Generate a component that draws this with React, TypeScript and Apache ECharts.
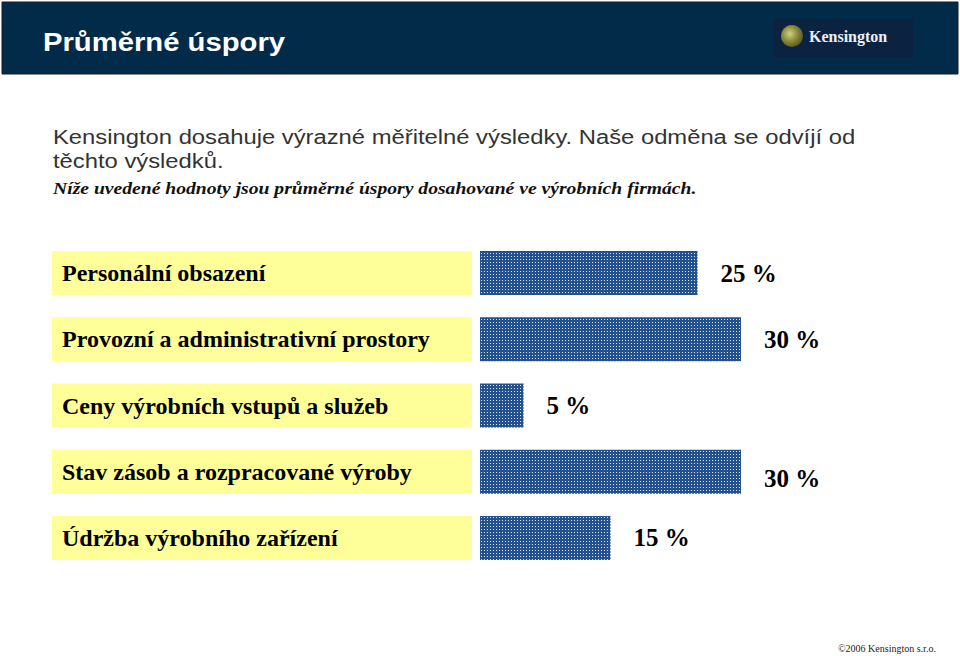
import React, { useEffect, useRef } from "react";
import * as echarts from "echarts";

const categories = [
  "Personální obsazení",
  "Provozní a administrativní prostory",
  "Ceny výrobních vstupů a služeb",
  "Stav zásob a rozpracované výroby",
  "Údržba výrobního zařízení",
];
const savings = [25, 30, 5, 30, 15];
const titleText = "Průměrné úspory";
const introLine1 = "Kensington dosahuje výrazné měřitelné výsledky. Naše odměna se odvíjí od";
const introLine2 = "těchto výsledků.";
const noteText = "Níže uvedené hodnoty jsou průměrné úspory dosahované ve výrobních firmách.";
const footerText = "©2006 Kensington s.r.o.";
const logoText = "Kensington";

function makePattern(): string {
  const c = document.createElement("canvas");
  c.width = 3;
  c.height = 3;
  const ctx = c.getContext("2d")!;
  ctx.fillStyle = "#23508f";
  ctx.fillRect(0, 0, 3, 3);
  ctx.fillStyle = "#dfe8f6";
  ctx.fillRect(1, 1, 1, 1);
  return c.toDataURL();
}

export default function App() {
  const ref = useRef<HTMLDivElement>(null);
  useEffect(() => {
    if (!ref.current) return;
    const chart = echarts.init(ref.current, null, { renderer: "svg" });
    const pattern = makePattern();
    const serif = "'Liberation Serif', 'Times New Roman', serif";
    const sans = "'Liberation Sans', Arial, sans-serif";
    chart.setOption({
      animation: false,
      backgroundColor: "#ffffff",
      grid: {
        left: 480,
        top: 240,
        width: 261,
        height: 331,
        containLabel: false,
        outerBoundsMode: "none",
      },
      xAxis: {
        type: "value",
        min: 0,
        max: 30,
        show: false,
      },
      yAxis: {
        type: "category",
        inverse: true,
        data: categories,
        axisLine: { show: false },
        axisTick: { show: false },
        splitLine: { show: false },
        axisLabel: {
          margin: 428,
          align: "left",
          verticalAlign: "middle",
          color: "#000000",
          fontFamily: serif,
          fontWeight: "bold",
          fontSize: 24,
          backgroundColor: "#ffff99",
          width: 410,
          height: 28,
          lineHeight: 28,
          padding: [8, 0, 8, 10],
        },
      },
      series: [
        {
          type: "bar",
          data: savings.map((v, i) => ({
            value: v,
            label: i === 3 ? { offset: [0, 7] } : undefined,
          })),
          barWidth: 44,
          itemStyle: { color: { image: pattern, repeat: "repeat" } },
          label: {
            show: true,
            position: "right",
            distance: 23,
            formatter: "{c} %",
            fontFamily: serif,
            fontWeight: "bold",
            fontSize: 25,
            color: "#000000",
          },
        },
      ],
      graphic: [
        {
          type: "rect",
          shape: { x: 2, y: 2, width: 956, height: 72 },
          style: { fill: "#022b4a", stroke: "#1a1a1a", lineWidth: 1 },
          z: 0,
        },
        {
          type: "text",
          x: 43,
          y: 42,
          scaleX: 1.17,
          style: {
            text: titleText,
            fill: "#ffffff",
            font: `bold 25px ${sans}`,
            verticalAlign: "middle",
          },
        },
        {
          type: "rect",
          shape: { x: 773, y: 19, width: 140, height: 38 },
          style: { fill: "#0b2241" },
        },
        {
          type: "circle",
          shape: { cx: 792, cy: 36, r: 11 },
          style: {
            fill: {
              type: "radial",
              x: 0.4,
              y: 0.4,
              r: 0.7,
              colorStops: [
                { offset: 0, color: "#d0d088" },
                { offset: 0.5, color: "#8a8a38" },
                { offset: 1, color: "#4a4c1c" },
              ],
            },
          },
        },
        {
          type: "text",
          x: 809,
          y: 36,
          style: {
            text: logoText,
            fill: "#eef0f4",
            font: `bold 16px ${serif}`,
            verticalAlign: "middle",
          },
        },
        {
          type: "text",
          x: 53,
          y: 137,
          scaleX: 1.19,
          style: {
            text: introLine1,
            fill: "#333333",
            font: `20px ${sans}`,
            verticalAlign: "middle",
          },
        },
        {
          type: "text",
          x: 53,
          y: 161,
          scaleX: 1.19,
          style: {
            text: introLine2,
            fill: "#333333",
            font: `20px ${sans}`,
            verticalAlign: "middle",
          },
        },
        {
          type: "text",
          x: 53,
          y: 188,
          scaleX: 1.155,
          style: {
            text: noteText,
            fill: "#111111",
            font: `italic bold 17px ${serif}`,
            verticalAlign: "middle",
          },
        },
        {
          type: "text",
          x: 838,
          y: 648,
          style: {
            text: footerText,
            fill: "#222222",
            font: `10px ${serif}`,
            verticalAlign: "middle",
          },
        },
      ],
    });
    return () => chart.dispose();
  }, []);
  return (
    <div
      ref={ref}
      style={{ position: "fixed", left: 0, top: 0, width: 960, height: 656 }}
    />
  );
}
